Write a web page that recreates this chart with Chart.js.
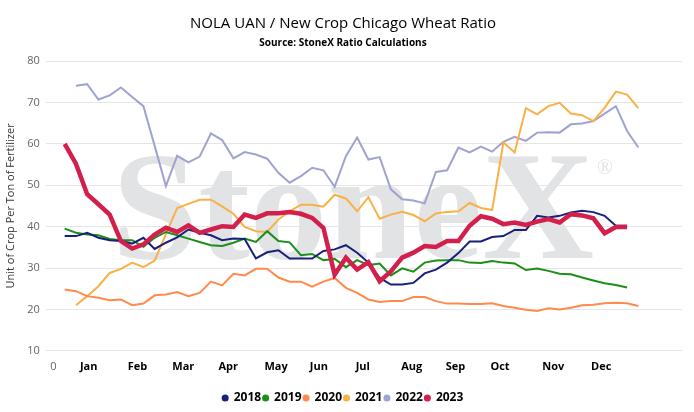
<!DOCTYPE html>
<html>
<head>
<meta charset="utf-8">
<script src="https://cdn.jsdelivr.net/npm/chart.js@4/dist/chart.umd.min.js"></script>
<style>
html,body{margin:0;padding:0;background:#fff;}
#wrap{width:694px;height:412px;}
</style>
</head>
<body>
<div id="wrap"><canvas id="c" width="694" height="412"></canvas></div>
<script>
// ---- data ----
const seriesNames = ['2018', '2019', '2020', '2021', '2022', '2023'];
const seriesStartWeek = [1, 1, 1, 2, 2, 1];
const monthLabels = ['Jan','Feb','Mar','Apr','May','Jun','Jul','Aug','Sep','Oct','Nov','Dec'];
const monthTickWeek = [3.13, 7.47, 11.55, 15.54, 19.79, 23.6, 27.5, 31.85, 35.75, 39.7, 44.44, 48.7];
const yTicks = [10, 20, 30, 40, 50, 60, 70, 80];

const values2018 = [37.7,37.7,38.5,37.3,36.7,36.5,35.9,37.3,34.6,36.1,37.4,39.3,38.5,37.9,36.7,37.1,37.0,32.3,33.8,34.3,32.3,32.3,32.3,34.1,34.5,35.5,33.7,31.3,27.6,26.0,26.0,26.4,28.7,29.6,31.3,33.6,36.4,36.4,37.5,37.7,39.2,39.2,42.6,42.2,42.6,43.4,43.8,43.5,42.6,40.2,40.2];
const values2019 = [39.5,38.5,38.1,37.9,37.0,36.7,36.7,35.1,37.3,38.7,37.9,37.1,36.3,35.5,35.3,36.1,37.1,36.3,38.9,36.5,36.2,33.1,33.4,31.9,32.2,30.2,31.9,30.7,31.1,28.2,29.9,29.1,31.3,31.8,31.9,31.9,31.3,31.2,31.7,31.3,31.1,29.5,29.9,29.3,28.6,28.5,27.7,27.0,26.3,25.9,25.3];
const values2020 = [24.8,24.4,23.2,22.8,22.2,22.4,21.0,21.4,23.4,23.6,24.2,23.2,24.0,26.7,25.8,28.6,28.2,29.8,29.8,27.7,26.7,26.7,25.5,26.7,27.6,25.2,24.0,22.4,21.8,22.0,22.0,23.0,23.0,22.0,21.4,21.4,21.3,21.3,21.5,20.8,20.4,19.9,19.6,20.3,20.0,20.4,21.0,21.1,21.5,21.6,21.5,20.8];
const values2021 = [21.0,23.2,25.6,28.8,29.8,31.3,30.2,31.8,38.2,44.5,45.5,46.5,46.5,44.9,43.1,39.9,38.9,38.7,41.7,43.7,45.3,45.3,44.8,47.7,46.8,43.7,47.1,41.9,42.9,43.6,42.8,41.3,43.2,43.5,43.7,45.7,44.5,44.0,60.3,57.9,68.6,67.1,69.1,69.9,67.3,66.9,65.5,68.7,72.6,71.9,68.6];
const values2022 = [74.0,74.4,70.7,71.7,73.6,71.3,69.1,59.5,49.8,57.1,55.5,56.9,62.5,60.9,56.5,58.0,57.4,56.4,53.0,50.6,52.2,54.2,53.6,49.6,57.0,61.5,56.2,56.8,49.0,46.6,46.3,45.6,53.2,53.6,59.1,57.9,59.3,58.1,60.5,61.7,60.7,62.7,62.8,62.7,64.7,64.9,65.5,67.3,69.1,63.1,59.1];
const values2023 = [60.0,55.2,47.8,45.4,42.9,36.5,34.7,35.7,38.1,39.7,38.7,40.3,38.5,39.3,40.1,39.9,42.9,42.1,43.2,43.2,43.5,43.1,42.1,39.7,28.4,32.5,29.6,31.4,26.8,29.2,32.5,33.7,35.3,35.1,36.5,36.5,40.2,42.5,41.9,40.6,41.0,40.4,41.2,41.8,41.0,43.0,42.7,42.0,38.4,39.9,39.9];

const allValues = [values2018, values2019, values2020, values2021, values2022, values2023];

// ---- style ----
const colors = ['#17207a', '#1b8f18', '#ff8a4c', '#f9b147', '#9fa3cf', '#d21f4c'];
const widths = [2, 2, 2, 2, 2, 4.5];
const drawOrder = [2, 3, 4, 5, 6, 0];

const datasets = seriesNames.map((name, i) => ({
  label: name,
  data: allValues[i].map((v, k) => ({ x: seriesStartWeek[i] + k, y: v })),
  borderColor: colors[i],
  backgroundColor: colors[i],
  borderWidth: widths[i],
  pointRadius: 0,
  pointHoverRadius: 0,
  tension: 0,
  fill: false,
  order: drawOrder[i]
}));

const watermark = {
  id: 'watermark',
  beforeDatasetsDraw(chart) {
    const c = chart.ctx;
    c.save();
    c.fillStyle = '#e2e3e5';
    c.textAlign = 'left';
    c.textBaseline = 'alphabetic';
    c.font = 'bold 155px "Liberation Serif"';
    c.fillText('StoneX', 112, 258);
    c.textAlign = 'center';
    c.textBaseline = 'middle';
    c.font = '21px "Liberation Serif"';
    c.fillText('\u00AE', 605, 168);
    c.restore();
  }
};

const tickValues = [0].concat(monthTickWeek);

new Chart(document.getElementById('c'), {
  type: 'line',
  data: { datasets },
  plugins: [watermark],
  options: {
    responsive: false,
    animation: false,
    devicePixelRatio: 1,
    layout: { padding: { left: 4, right: 12, top: 3, bottom: -2 } },
    plugins: {
      title: {
        display: true,
        text: 'NOLA UAN / New Crop Chicago Wheat Ratio',
        color: '#000',
        font: { family: 'Open Sans', size: 15, weight: 'normal' },
        padding: { top: 12, bottom: 2 }
      },
      subtitle: {
        display: true,
        text: 'Source: StoneX Ratio Calculations',
        color: '#000',
        font: { family: 'Open Sans', size: 10, weight: 'bold' },
        padding: { top: 2, bottom: 12 }
      },
      legend: {
        position: 'bottom',
        labels: {
          usePointStyle: true,
          pointStyle: 'circle',
          boxWidth: 5,
          boxHeight: 5,
          padding: 2,
          color: '#000',
          font: { family: 'Open Sans', size: 12, weight: 'bold' },
          sort: (a, b) => a.datasetIndex - b.datasetIndex,
          generateLabels(chart) {
            const items = Chart.defaults.plugins.legend.labels.generateLabels(chart);
            items.forEach(it => { it.lineWidth = 0; it.strokeStyle = it.fillStyle; });
            return items;
          }
        }
      },
      tooltip: { enabled: false }
    },
    scales: {
      x: {
        type: 'linear',
        min: -0.68,
        max: 55.88,
        grid: { display: false, drawTicks: false },
        border: { display: false },
        afterBuildTicks(scale) {
          scale.ticks = tickValues.map(v => ({ value: v }));
        },
        afterFit(scale) {
          scale.height += 8;
        },
        ticks: {
          autoSkip: false,
          maxRotation: 0,
          padding: 9,
          callback(value) {
            const idx = monthTickWeek.indexOf(value);
            return idx >= 0 ? monthLabels[idx] : '0';
          },
          color: (ctx) => (ctx.tick && ctx.tick.value === 0) ? '#666' : '#000',
          font: (ctx) => (ctx.tick && ctx.tick.value === 0)
            ? { family: 'Open Sans', size: 11, weight: 'normal' }
            : { family: 'Open Sans', size: 11, weight: 'bold' }
        }
      },
      y: {
        min: 10,
        max: 80,
        afterBuildTicks(scale) {
          scale.ticks = yTicks.map(v => ({ value: v }));
        },
        grid: { color: '#e6e6e6', lineWidth: 1, drawTicks: false },
        border: { display: false },
        ticks: {
          color: '#666',
          padding: 6,
          font: { family: 'Open Sans', size: 11 }
        },
        title: {
          display: true,
          text: 'Unit of Crop Per Ton of Fertilizer',
          color: '#333',
          padding: { top: 0, bottom: 4 },
          font: { family: 'Open Sans', size: 11 }
        }
      }
    }
  }
});
</script>
</body>
</html>
